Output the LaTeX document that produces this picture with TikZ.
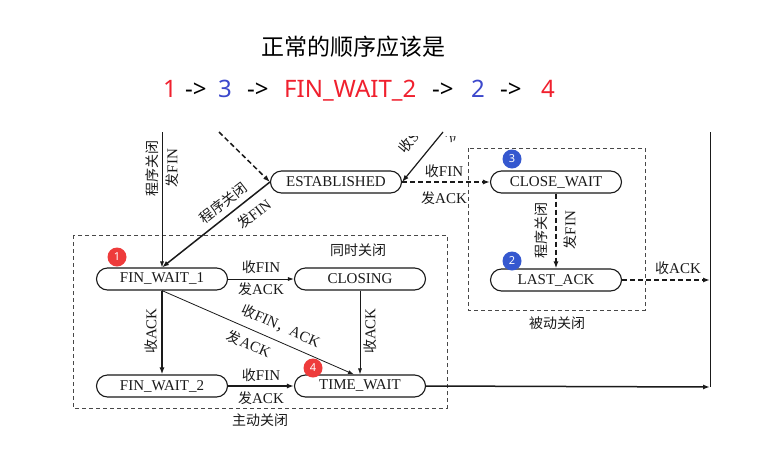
\documentclass[tikz,border=0pt]{standalone}
\usepackage{fontspec}
\setmainfont{Liberation Serif}
\newfontfamily\cjk{Noto Sans CJK SC}
\newfontfamily\uisans{Noto Sans}
\usetikzlibrary{arrows.meta}
\definecolor{notered}{HTML}{F0202E}
\definecolor{noteblue}{HTML}{3C48CC}
\definecolor{badgered}{HTML}{EE3B3B}
\definecolor{badgeblue}{HTML}{3558CF}
\definecolor{scanink}{HTML}{1A1A1A}
\newcommand\zh[1]{{\cjk\fontsize{14}{16}\selectfont #1}}

\begin{document}
\begin{tikzpicture}[
  x=1pt, y=-1pt,
  every node/.style={font=\fontsize{15}{17}\selectfont, scanink, inner sep=1pt},
  state/.style={draw=scanink, line width=1.1pt, rounded corners=11pt,
    minimum width=131pt, minimum height=22pt, inner sep=0pt},
  lnThin/.style={scanink, line width=0.8pt, -{Latex[length=6pt, width=4pt]}},
  lnThick/.style={scanink, line width=1.5pt, -{Latex[length=7pt, width=5pt]}},
  lnDash/.style={lnThick, dash pattern=on 5pt off 3pt},
  zone/.style={draw=scanink!80, line width=0.8pt, dash pattern=on 4pt off 3pt},
  badge/.style={circle, fill=#1, text=white, minimum size=19pt, inner sep=0pt,
    font=\uisans\fontsize{11}{11}\selectfont},
  seq/.style={anchor=base west, inner sep=0pt, font=\uisans\fontsize{24}{28}\selectfont}
]
  \useasboundingbox[fill=white] (0,0) rectangle (771,461);

  %% ---- 标题与顺序 ------------------------------------------------
  \node[font=\cjk\fontsize{23}{26}\selectfont, text=black] (title) at (353,47) {正常的顺序应该是};
  \node[seq, text=notered]  (n1)  at (163,97) {1};
  \node[seq, text=black]    (a1)  at (185,97) {->};
  \node[seq, text=noteblue] (n3)  at (218,97) {3};
  \node[seq, text=black]    (a2)  at (247,97) {->};
  \node[seq, text=notered]  (nfw) at (284,97) {FIN\_WAIT\_2};
  \node[seq, text=black]    (a3)  at (432,97) {->};
  \node[seq, text=noteblue] (n2)  at (471,97) {2};
  \node[seq, text=black]    (a4)  at (500,97) {->};
  \node[seq, text=notered]  (n4)  at (541,97) {4};

  %% ---- 虚线分区 ----------------------------------------------------
  \draw[zone] (73,235) rectangle (447,408);
  \draw[zone] (468,148) rectangle (645,310);
  \node (zSim)  at (358,250) {\zh{同时关闭}};
  \node (zAct)  at (260,420) {\zh{主动关闭}};
  \node (zPas)  at (557,323) {\zh{被动关闭}};

  %% ---- 状态 --------------------------------------------------------
  \node[state] (est) at (336,182) {ESTABLISHED};
  \node[state] (cw)  at (556,182) {CLOSE\_WAIT};
  \node[state] (la)  at (556,280) {LAST\_ACK};
  \node[state] (fw1) at (162,279) {FIN\_WAIT\_1};
  \node[state] (cl)  at (360,279) {CLOSING};
  \node[state] (fw2) at (162,386) {FIN\_WAIT\_2};
  \node[state] (tw)  at (360,386) {TIME\_WAIT};

  \coordinate (topL)  at (162,132);
  \coordinate (topM)  at (219,132);
  \coordinate (topR)  at (443,132);
  \coordinate (railT) at (710,132);
  \coordinate (railA) at (710,280);
  \coordinate (railB) at (710,387);

  %% ---- 迁移 --------------------------------------------------------
  \draw[lnThin]  (topL) -- (fw1.north);
  \draw[lnDash]  (topM) -- (est.west);
  \draw[lnThick, line width=1.2pt] (topR) -- (est.east);
  \draw[lnThick] (est.west) -- (fw1.north);
  \draw[lnDash]  (est.east) -- (cw.west);
  \draw[lnDash]  (cw.south) -- (la.north);
  \draw[lnDash]  (la.east) -- (railA);
  \draw[lnThin]  (fw1.east) -- (cl.west);
  \draw[lnThick] (fw1.south) -- (fw2.north);
  \draw[lnThin]  (fw1.south) -- ([xshift=-6pt]tw.north);
  \draw[lnThin]  (cl.south) -- (tw.north);
  \draw[lnThick] (fw2.east) -- (tw.west);
  \draw[lnThick] (tw.east) -- (railB);
  \draw[scanink, line width=0.9pt] (railT) -- (railB);

  %% ---- 迁移标注 ----------------------------------------------------
  \node[rotate=90] (lTopA) at (152,168) {\zh{程序关闭}};
  \node[rotate=90] (lTopB) at (172,168) {\zh{发}FIN};
  \node[rotate=38] (lEfA)  at (223,203) {\zh{程序关闭}};
  \node[rotate=38] (lEfB)  at (254,214) {\zh{发}FIN};
  \node (lEcA) at (444,171) {\zh{收}FIN};
  \node (lEcB) at (444,198) {\zh{发}ACK};
  \node[rotate=90] (lClA) at (541,230) {\zh{程序关闭}};
  \node[rotate=90] (lClB) at (570,230) {\zh{发}FIN};
  \node (lLr)  at (678,268) {\zh{收}ACK};
  \node (lFcA) at (261,267) {\zh{收}FIN};
  \node (lFcB) at (261,289) {\zh{发}ACK};
  \node (lFtA) at (261,375) {\zh{收}FIN};
  \node (lFtB) at (261,398) {\zh{发}ACK};
  \node[rotate=90] (lFf) at (151,331) {\zh{收}ACK};
  \node[rotate=90] (lCt) at (370,331) {\zh{收}ACK};
  \node[rotate=-24] (lDgA) at (281,326) {\zh{收}FIN\zh{，}ACK};
  \node[rotate=-24] (lDgB) at (249,344) {\zh{发}ACK};

  % 上缘被裁掉的标注
  \begin{scope}
    \clip (380,136) rectangle (480,175);
    \node[rotate=51, anchor=west] (lSynA) at (401,152) {\zh{收}SYN\zh{，}ACK};
    \node[rotate=51, anchor=west] (lSynB) at (447,141) {\zh{发}ACK};
  \end{scope}

  %% ---- 序号圆标 ----------------------------------------------------
  \node[badge=badgered]  (b1) at (117,257) {1};
  \node[badge=badgeblue] (b3) at (512,159) {3};
  \node[badge=badgeblue] (b2) at (512,261) {2};
  \node[badge=badgered]  (b4) at (313,368) {4};

\end{tikzpicture}
\end{document}
